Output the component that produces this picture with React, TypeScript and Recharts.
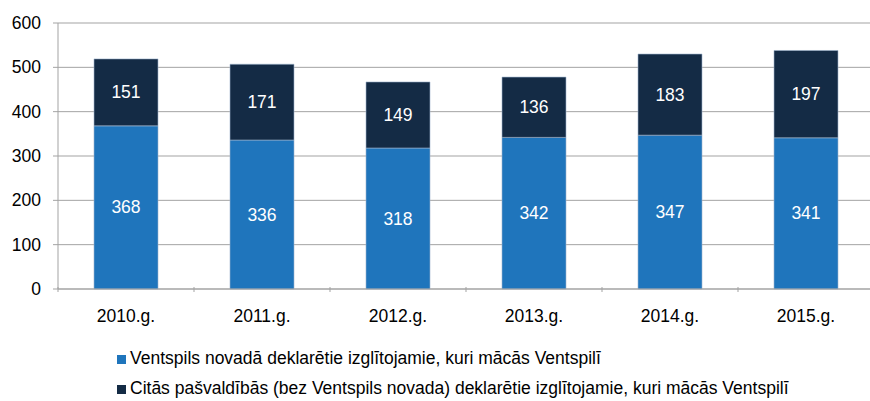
import React from 'react';
import { BarChart, Bar, XAxis, YAxis, CartesianGrid, Legend, LabelList } from 'recharts';

const years = ['2010.g.', '2011.g.', '2012.g.', '2013.g.', '2014.g.', '2015.g.'];
const ventspilsNovads = [368, 336, 318, 342, 347, 341];
const citasPasvaldibas = [151, 171, 149, 136, 183, 197];
const yTicks = [0, 100, 200, 300, 400, 500, 600];
const seriesNames = [
  'Ventspils novadā deklarētie izglītojamie, kuri mācās Ventspilī',
  'Citās pašvaldībās (bez Ventspils novada) deklarētie izglītojamie, kuri mācās Ventspilī',
];
const colors = ['#1F75BC', '#142B45'];

const data = years.map((y, i) => ({ year: y, a: ventspilsNovads[i], b: citasPasvaldibas[i] }));

const FONT = '"Liberation Sans", Arial, sans-serif';
const FS = 17.5;
const GRID = '#A3A3A3';

const XTick = (props: any) => {
  const { x, y, payload, index, visibleTicksCount } = props;
  const half = 68;
  return (
    <g>
      <line x1={x - half} y1={y - 10} x2={x - half} y2={y - 5} stroke={GRID} />
      {index === visibleTicksCount - 1 && (
        <line x1={x + half} y1={y - 10} x2={x + half} y2={y - 5} stroke={GRID} />
      )}
      <text x={x} y={y + 25} textAnchor="middle" fontFamily={FONT} fontSize={FS} fill="#000">
        {payload.value}
      </text>
    </g>
  );
};

const YTick = (props: any) => {
  const { x, y, payload } = props;
  return (
    <text x={x} y={y} dy={6} textAnchor="end" fontFamily={FONT} fontSize={FS} fill="#000">
      {payload.value}
    </text>
  );
};

const BarLabel = (props: any) => {
  const { x, y, width, height, value } = props;
  return (
    <text
      x={x + width / 2}
      y={y + height / 2}
      dy={6}
      textAnchor="middle"
      fontFamily={FONT}
      fontSize={FS}
      fill="#fff"
    >
      {value}
    </text>
  );
};

const LegendContent = () => (
  <div style={{ fontFamily: FONT, fontSize: FS, color: '#000' }}>
    {seriesNames.map((name, i) => (
      <div key={i} style={{ display: 'flex', alignItems: 'center', height: 30, whiteSpace: 'nowrap' }}>
        <span style={{ display: 'inline-block', width: 9, height: 9, background: colors[i], marginRight: 4, marginTop: 2 }} />
        <span>{name}</span>
      </div>
    ))}
  </div>
);

export default function App() {
  return (
    <div style={{ position: 'absolute', left: 0, top: 0, width: 870, height: 401, overflow: 'hidden', background: '#fff' }}>
      <BarChart
        width={880}
        height={401}
        data={data}
        margin={{ top: 23, right: 6, left: 0, bottom: 72 }}
        barSize={64}
      >
        <CartesianGrid vertical={false} stroke={GRID} strokeWidth={1} />
        <XAxis
          dataKey="year"
          height={40}
          axisLine={{ stroke: GRID }}
          tickLine={false}
          tick={<XTick />}
          interval={0}
        />
        <YAxis
          width={58}
          domain={[0, 600]}
          ticks={yTicks}
          axisLine={{ stroke: GRID }}
          tickLine={{ stroke: GRID }}
          tickSize={5}
          tickMargin={12}
          tick={<YTick />}
          interval={0}
        />
        <Legend
          layout="horizontal"
          verticalAlign="middle"
          align="center"
          content={<LegendContent />}
          wrapperStyle={{ top: 343, left: 117, width: 760, height: 60 }}
        />
        <Bar dataKey="a" name={seriesNames[0]} stackId="s" fill={colors[0]} stroke="#9DB4CC" strokeWidth={0.6} isAnimationActive={false}>
          <LabelList dataKey="a" content={<BarLabel />} />
        </Bar>
        <Bar dataKey="b" name={seriesNames[1]} stackId="s" fill={colors[1]} stroke="#9DB4CC" strokeWidth={0.6} isAnimationActive={false}>
          <LabelList dataKey="b" content={<BarLabel />} />
        </Bar>
      </BarChart>
    </div>
  );
}
